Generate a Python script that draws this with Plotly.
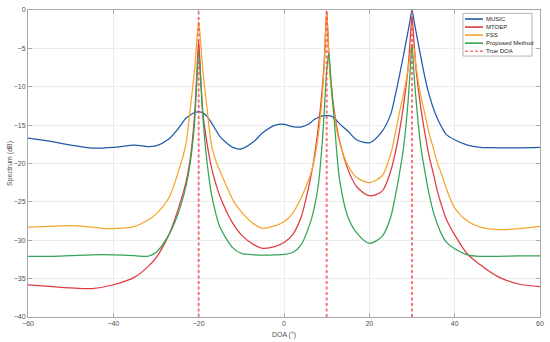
import plotly.graph_objects as go

# Shared DOA grid (degrees)
doa_grid = [-60, -55, -50, -45, -40, -35, -32, -30, -27, -25, -23, -22, -21, -20.5, -20,
            -19.5, -19, -18, -17, -16, -15, -12, -10, -7, -5, -2, 0, 2, 4, 6, 7, 8, 9, 9.5,
            10, 10.5, 11, 12, 13, 15, 17, 20, 23, 25, 26, 27, 28, 29, 29.5, 30, 30.5, 31,
            32, 33, 34, 35, 36, 37, 38, 40, 43, 46, 50, 55, 60]

music = [-16.7, -17.1, -17.6, -18.0, -17.9, -17.6, -17.8, -17.7, -16.8, -15.6, -14.1, -13.7,
         -13.35, -13.3, -13.25, -13.3, -13.4, -13.9, -14.7, -15.6, -16.5, -17.9, -18.1, -17.1,
         -16.0, -15.0, -14.9, -15.2, -15.25, -14.8, -14.3, -14.0, -13.8, -13.75, -13.75, -13.75,
         -13.8, -14.2, -14.8, -15.8, -16.9, -17.3, -15.8, -13.6, -11.3, -8.7, -5.9, -3.0, -1.5,
         0.0, -1.5, -3.0, -5.9, -8.7, -11.0, -12.8, -14.2, -15.3, -16.2, -16.9, -17.6, -17.9,
         -17.95, -17.95, -17.9]

mtoep = [-35.8, -36.0, -36.2, -36.3, -35.8, -34.8, -33.5, -32.3, -29.3, -26.3, -22.5, -19.5,
         -14.0, -9.0, -4.0, -9.0, -13.5, -17.5, -20.5, -22.6, -24.3, -27.8, -29.3, -30.6, -31.05,
         -30.8, -30.3, -29.3, -27.0, -22.5, -19.5, -15.5, -10.0, -6.0, -0.1, -5.5, -9.5, -14.0,
         -17.0, -20.8, -23.0, -24.2, -23.6, -21.0, -18.8, -16.0, -12.5, -8.0, -4.5, -0.8, -4.5,
         -8.0, -12.5, -16.0, -19.0, -21.3, -23.7, -25.6, -27.2, -29.3, -31.8, -33.2, -34.7,
         -35.7, -36.05]

fss = [-28.3, -28.2, -28.1, -28.3, -28.5, -28.2, -27.4, -26.6, -24.5, -21.5, -17.5, -13.0,
       -8.0, -4.5, -1.5, -4.5, -8.0, -13.0, -17.6, -19.6, -21.0, -24.7, -26.3, -27.9, -28.45,
       -28.1, -27.6, -26.5, -24.5, -21.8, -19.8, -16.5, -11.0, -6.5, -0.3, -6.0, -10.0, -14.5,
       -17.2, -20.3, -21.8, -22.5, -21.6, -18.8, -16.3, -13.5, -11.0, -8.0, -6.0, -4.5, -5.0,
       -7.5, -11.0, -13.5, -16.0, -18.0, -20.0, -21.5, -23.2, -25.8, -27.5, -28.3, -28.6,
       -28.5, -28.2]

proposed = [-32.1, -32.1, -32.0, -31.9, -31.9, -32.0, -32.1, -31.6, -29.3, -26.8, -23.0, -20.0,
            -15.0, -10.0, -5.3, -9.5, -14.0, -20.0, -24.0, -26.5, -28.3, -31.0, -31.7, -31.9,
            -31.95, -31.9, -31.85, -31.6, -30.6, -28.0, -26.0, -23.0, -17.0, -12.5, -8.0, -5.6,
            -9.0, -16.0, -22.0, -27.0, -29.0, -30.4, -29.5, -27.0, -24.5, -21.5, -18.0, -12.5,
            -8.5, -4.5, -8.5, -12.0, -17.5, -21.0, -24.0, -26.3, -28.0, -29.3, -30.2, -31.1,
            -31.9, -32.1, -32.1, -32.05, -32.05]

true_doa = [-20, 10, 30]

series_names = ["MUSIC", "MTOEP", "FSS", "Proposed Method"]
series_values = [music, mtoep, fss, proposed]
series_colors = ["#1f5ba8", "#df3a3f", "#f5a52c", "#34a456"]
doa_color = "rgba(250,70,80,0.75)"
doa_dash = "3px,2.5px"

y_range = [-40, 0]
x_range = [-60, 60]

fig = go.Figure()
for name, vals, col in zip(series_names, series_values, series_colors):
    fig.add_trace(go.Scatter(x=doa_grid, y=vals, mode="lines", name=name, showlegend=False,
                             line=dict(color=col, width=1.25, shape="spline", smoothing=0.8)))

vx, vy = [], []
for d in true_doa:
    vx += [d, d, None]
    vy += [y_range[0], y_range[1], None]
fig.add_trace(go.Scatter(x=vx, y=vy, mode="lines", name="True DOA", showlegend=False,
                         line=dict(color=doa_color, width=2, dash=doa_dash)))

# Compact MATLAB-style legend drawn in paper coordinates
leg_x0, leg_x1, leg_y0, leg_y1 = 0.8496, 0.9844, 0.850, 0.989
fig.add_shape(type="rect", xref="paper", yref="paper", x0=leg_x0, x1=leg_x1, y0=leg_y0, y1=leg_y1,
              line=dict(color="#b5b5b5", width=1), fillcolor="white", layer="above")
leg_labels = series_names + ["True DOA"]
leg_colors = series_colors + [doa_color]
row_top, row_step = 0.9706, 0.0262
for i, (lab, col) in enumerate(zip(leg_labels, leg_colors)):
    yy = row_top - i * row_step
    fig.add_shape(type="line", xref="paper", yref="paper", x0=0.8535, x1=0.8887, y0=yy, y1=yy,
                  line=dict(color=col, width=1.6,
                            dash="solid" if i < 4 else "3px,2px"), layer="above")
    fig.add_annotation(x=0.8907, y=yy, xref="paper", yref="paper", text=lab, showarrow=False,
                       xanchor="left", yanchor="middle", font=dict(size=6, color="#262626"))

axis_common = dict(showline=True, linecolor="#a8a8a8", linewidth=1, mirror="ticks",
                   ticks="inside", ticklen=4, tickcolor="#a8a8a8",
                   showgrid=True, gridcolor="#ececec", gridwidth=1, zeroline=False,
                   tickfont=dict(size=7, color="#505050"), automargin=False,
                   ticklabeloverflow="allow")

fig.update_layout(
    width=550, height=342,
    margin=dict(l=28, r=10, t=10, b=25),
    paper_bgcolor="white", plot_bgcolor="white",
    font=dict(family="Liberation Sans, Arial, sans-serif", size=7, color="#505050"),
    xaxis=dict(range=x_range, dtick=20, title=dict(text="DOA (°)", font=dict(size=7), standoff=5),
               **axis_common),
    yaxis=dict(range=y_range, dtick=5, title=dict(text="Spectrum (dB)", font=dict(size=7), standoff=0),
               **axis_common),
    showlegend=False,
)

fig.write_html("out.html", config={"displayModeBar": False},
               post_script="document.body.style.margin='0px';document.body.style.overflow='hidden';")
